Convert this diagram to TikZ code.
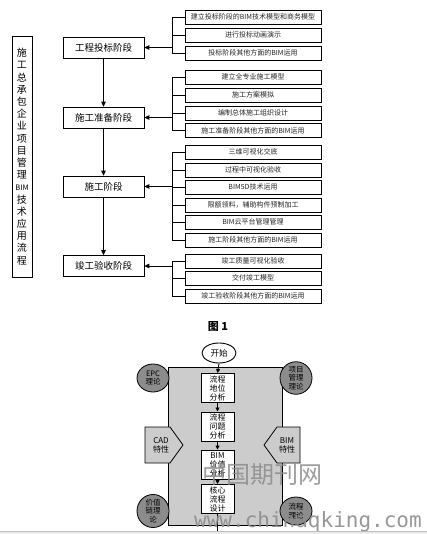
\documentclass[tikz,border=0pt]{standalone}
\usepackage{fontspec}
\setmainfont{Noto Sans CJK SC}
\newfontfamily\monofnt{DejaVu Sans Mono}
\usetikzlibrary{arrows.meta,shadows,shapes.geometric}
\tikzset{
  shad/.style={drop shadow={shadow xshift=0.9pt,shadow yshift=-0.9pt,opacity=1,fill=black}},
  stagebox/.style={draw,fill=white,line width=0.6pt,minimum width=81pt,minimum height=21pt,inner sep=0pt,font=\fontsize{9.5}{10}\selectfont,shad},
  itembox/.style={draw,fill=white,line width=0.6pt,minimum width=136pt,minimum height=14pt,inner sep=0pt,font=\fontsize{7}{8}\selectfont,text=black!85,shad},
  titlebox/.style={draw,fill=white,line width=0.6pt,minimum width=20pt,minimum height=241pt,inner sep=0pt,align=center,font=\fontsize{10}{12.2}\selectfont,shad},
  arr/.style={line width=0.9pt,-{Triangle[length=5pt,width=4.5pt]}},
  brk/.style={line width=0.9pt},
  flowbox/.style={draw,fill=white,line width=1pt,minimum width=33pt,minimum height=29pt,inner sep=0pt,align=center,font=\fontsize{8}{9}\selectfont},
  theory/.style={ellipse,draw,fill=black!45,line width=0.8pt,minimum width=32pt,minimum height=28pt,inner sep=0pt,align=center,font=\fontsize{7.5}{8.3}\selectfont},
  pent/.style={draw,fill=black!20,line width=0.8pt},
  farr/.style={line width=0.9pt,-{Triangle[length=4pt,width=4pt]}}
}
\begin{document}
\begin{tikzpicture}[x=1pt,y=-1pt]
\useasboundingbox (0,0) rectangle (427,534);
\fill[white] (0,0) rectangle (427,534);

% title box
\node[titlebox] (title) at (22,156.5) {施\\工\\总\\承\\包\\企\\业\\项\\目\\管\\理\\{\fontsize{7.5}{8}\selectfont BIM}\\技\\术\\应\\用\\流\\程};

% stages
\node[stagebox] (s1) at (103.5,47.5) {工程投标阶段};
\node[stagebox] (s2) at (103.5,117.5) {施工准备阶段};
\node[stagebox] (s3) at (103.5,186.5) {施工阶段};
\node[stagebox] (s4) at (103.5,266) {竣工验收阶段};
\draw[arr] (s1.south) -- (s2.north);
\draw[arr] (s2.south) -- (s3.north);
\draw[arr] (s3.south) -- (s4.north);

% items group 1
\node[itembox] (a1) at (253,17) {建立投标阶段的BIM技术模型和商务模型};
\node[itembox] (a2) at (253,35) {进行投标动画演示};
\node[itembox] (a3) at (253,53) {投标阶段其他方面的BIM运用};
% group 2
\node[itembox] (b1) at (253,77) {建立全专业施工模型};
\node[itembox] (b2) at (253,95) {施工方案模拟};
\node[itembox] (b3) at (253,113) {编制总体施工组织设计};
\node[itembox] (b4) at (253,130.5) {施工准备阶段其他方面的BIM运用};
% group 3
\node[itembox] (c1) at (253,152) {三维可视化交底};
\node[itembox] (c2) at (253,170) {过程中可视化验收};
\node[itembox] (c3) at (253,187) {BIM5D技术运用};
\node[itembox] (c4) at (253,205) {限额领料，辅助构件预制加工};
\node[itembox] (c5) at (253,222) {BIM云平台管理管理};
\node[itembox] (c6) at (253,240) {施工阶段其他方面的BIM运用};
% group 4
\node[itembox] (d1) at (253,261) {竣工质量可视化验收};
\node[itembox] (d2) at (253,278) {交付竣工模型};
\node[itembox] (d3) at (253,296) {竣工验收阶段其他方面的BIM运用};

% brackets
\coordinate (k1) at (172,47.5);
\coordinate (k2) at (172,117.5);
\coordinate (k3) at (172,186.5);
\coordinate (k4) at (172,266);
\draw[arr] (k1) -- (s1.east);
\draw[arr] (k2) -- (s2.east);
\draw[arr] (k3) -- (s3.east);
\draw[arr] (k4) -- (s4.east);
\draw[brk] (k1 |- a1.west) -- (k1 |- a3.west);
\foreach \n in {a1,a2,a3} \draw[brk] (k1 |- \n.west) -- (\n.west);
\draw[brk] (k2 |- b1.west) -- (k2 |- b4.west);
\foreach \n in {b1,b2,b3,b4} \draw[brk] (k2 |- \n.west) -- (\n.west);
\draw[brk] (k3 |- c1.west) -- (k3 |- c6.west);
\foreach \n in {c1,c2,c3,c4,c5,c6} \draw[brk] (k3 |- \n.west) -- (\n.west);
\draw[brk] (k4 |- d1.west) -- (k4 |- d3.west);
\foreach \n in {d1,d2,d3} \draw[brk] (k4 |- \n.west) -- (\n.west);

% caption
\node[font=\fontsize{11}{12}\selectfont\bfseries] (cap) at (218,327) {图 1};

% lower figure
\draw[fill=black!20,line width=1pt] (168,367) rectangle (282,525);
\node[ellipse,draw,fill=white,line width=0.9pt,minimum width=34pt,minimum height=20pt,inner sep=0pt,font=\fontsize{8.5}{9}\selectfont] (st) at (219,353) {开始};
\node[flowbox] (f1) at (217.5,388) {流程\\地位\\分析};
\node[flowbox] (f2) at (217.5,426.5) {流程\\问题\\分析};
\node[flowbox] (f3) at (217.5,464.5) {BIM\\价值\\分析};
\node[flowbox] (f4) at (217.5,499) {核心\\流程\\设计};
\coordinate (fend) at (217.5,540);
\draw[farr] (st.south) -- (f1.north);
\draw[farr] (f1.south) -- (f2.north);
\draw[farr] (f2.south) -- (f3.north);
\draw[farr] (f3.south) -- (f4.north);
\draw[farr] (f4.south) -- (fend);

\node[theory] (t1) at (153,378) {EPC\\理论};
\node[theory] (t2) at (296,378) {项目\\管理\\理论};
\node[theory] (t3) at (153,511) {价值\\链理\\论};
\node[theory] (t4) at (296,511) {流程\\理论};

\draw[pent] (145,427) -- (170,427) -- (183,445) -- (170,463) -- (145,463) -- cycle;
\node[align=center,font=\fontsize{8}{9}\selectfont] (cad) at (161,445) {CAD\\特性};
\draw[pent] (300,427) -- (277,427) -- (264,445) -- (277,463) -- (300,463) -- cycle;
\node[align=center,font=\fontsize{8}{9}\selectfont] (bim) at (287,445) {BIM\\特性};

% watermark
\node[text=black!45,opacity=0.85,font=\fontsize{24}{24}\selectfont] (wm1) at (262,474) {中国期刊网};
\node[text=black!45,opacity=0.9,font=\monofnt\fontsize{21}{21}\selectfont,anchor=base west,inner sep=0pt] (wm2) at (194,527) {www.chinaqking.com};

\fill[black!8] (0,531) rectangle (427,534);
\draw[black!25,line width=0.8pt] (0,531) -- (427,531);
\end{tikzpicture}
\end{document}
